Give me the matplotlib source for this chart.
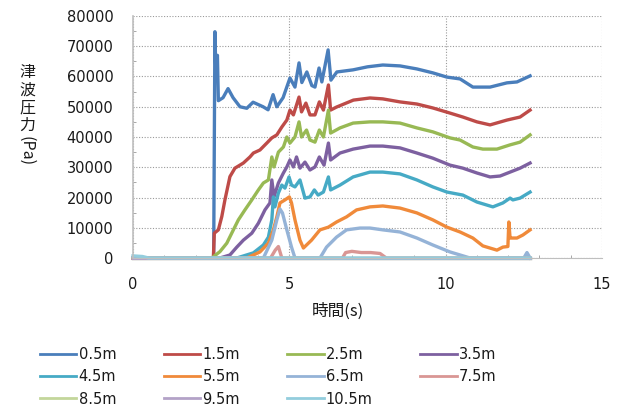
import matplotlib
matplotlib.use('Agg')
import matplotlib.pyplot as plt
from matplotlib.ticker import MultipleLocator

# series names (distance from shore)
names = ['0.5m', '1.5m', '2.5m', '3.5m', '4.5m', '5.5m',
         '6.5m', '7.5m', '8.5m', '9.5m', '10.5m']

colors = ['#4A7EBB', '#BE4B48', '#98B954', '#7D60A0', '#46AAC5', '#F08A3A',
          '#95B3D7', '#D99694', '#C3D69B', '#B3A2C7', '#93CDDD']

# time (s) and pressure (Pa)
t_05 = [0, 2.58, 2.62, 2.65, 2.70, 2.73, 2.88, 3.04, 3.20, 3.42, 3.64, 3.84, 4.16, 4.32,
        4.48, 4.60, 4.80, 5.02, 5.18, 5.31, 5.40, 5.56, 5.72, 5.82, 5.95, 6.04, 6.24,
        6.33, 6.52, 7.04, 7.50, 7.99, 8.54, 9.08, 9.59, 10.04, 10.46, 10.87, 11.42,
        11.96, 12.28, 12.70]
p_05 = [0, 0, 74800, 61000, 67000, 52000, 53000, 56000, 53000, 50000, 49500, 51500,
        50000, 49000, 54000, 50000, 53000, 59500, 56500, 64500, 58000, 61500, 57000,
        56500, 62800, 58200, 68800, 58800, 61500, 62200, 63200, 63800, 63500, 62500,
        61200, 59800, 59200, 56500, 56500, 57900, 58200, 60200]

t_15 = [0, 2.57, 2.60, 2.73, 2.84, 2.94, 3.10, 3.26, 3.53, 3.74, 3.85, 4.06, 4.28, 4.44,
        4.60, 4.76, 4.92, 5.02, 5.13, 5.31, 5.39, 5.53, 5.66, 5.82, 5.96, 6.09, 6.25,
        6.32, 6.51, 7.05, 7.58, 7.99, 8.54, 9.08, 9.59, 10.14, 10.55, 11.00, 11.42,
        11.96, 12.38, 12.70]
p_15 = [0, 0, 8200, 9300, 13700, 19200, 26900, 29700, 31400, 33400, 34700, 35700,
        38000, 39700, 40700, 43300, 45600, 48900, 47300, 53200, 48300, 51200, 47300,
        47300, 51600, 48900, 57200, 48900, 49900, 52200, 52900, 52600, 51600, 50900,
        49600, 47900, 46600, 45000, 44000, 45600, 46600, 48900]

t_25 = [0, 2.52, 2.78, 3.00, 3.21, 3.37, 3.58, 3.80, 4.01, 4.17, 4.33, 4.44, 4.51, 4.65,
        4.81, 4.92, 5.02, 5.18, 5.31, 5.39, 5.55, 5.66, 5.82, 5.96, 6.09, 6.25, 6.32,
        6.62, 7.04, 7.58, 7.99, 8.54, 9.08, 9.59, 10.14, 10.46, 10.87, 11.19, 11.64,
        12.06, 12.38, 12.70]
p_25 = [0, 0, 2100, 4900, 9300, 12600, 15900, 19200, 22500, 24800, 25800, 33400,
        30100, 35000, 36700, 40000, 38000, 40000, 45000, 40000, 42300, 39000, 38300,
        42300, 40000, 48900, 41300, 43000, 44600, 45000, 45000, 44600, 43000, 41700,
        39700, 39000, 36700, 36000, 36000, 37400, 38300, 40700]

t_35 = [0, 2.78, 3.10, 3.32, 3.53, 3.80, 4.01, 4.22, 4.38, 4.44, 4.51, 4.65, 4.81, 4.92,
        5.02, 5.13, 5.23, 5.34, 5.50, 5.66, 5.82, 5.96, 6.11, 6.25, 6.32, 6.62, 7.04,
        7.58, 7.99, 8.54, 9.08, 9.59, 10.14, 10.55, 11.00, 11.42, 11.74, 12.06, 12.38,
        12.70]
p_35 = [0, 0, 1000, 3600, 5900, 8200, 11500, 15900, 18200, 25800, 20200, 24800, 28100,
        30100, 32400, 30100, 33400, 29700, 31700, 29100, 30100, 33400, 30700, 38000,
        32400, 34700, 36000, 37000, 37000, 36400, 34700, 33000, 30700, 29700, 28100,
        26800, 27100, 28400, 29700, 31400]

t_45 = [0, 3.32, 3.85, 4.17, 4.33, 4.44, 4.49, 4.54, 4.65, 4.76, 4.86, 4.99, 5.07, 5.18,
        5.34, 5.50, 5.66, 5.80, 5.92, 6.09, 6.25, 6.32, 6.62, 7.04, 7.58, 7.99, 8.54,
        9.08, 9.59, 10.04, 10.55, 11.00, 11.51, 11.83, 12.06, 12.15, 12.38, 12.70]
p_45 = [0, 0, 1700, 4300, 6900, 12600, 20200, 16900, 21500, 24100, 23100, 26800, 24100,
        23500, 25800, 19800, 20200, 22500, 20800, 21800, 26800, 22500, 24100, 26800,
        28400, 28400, 27800, 25800, 23500, 21800, 20800, 18500, 16900, 18200, 19800,
        19200, 19800, 21800]

t_55 = [0, 3.64, 4.06, 4.33, 4.49, 4.60, 4.70, 4.86, 5.00, 5.07, 5.18, 5.34, 5.45, 5.55,
        5.71, 5.98, 6.25, 6.51, 6.83, 7.15, 7.58, 7.99, 8.54, 9.08, 9.59, 10.04, 10.46,
        10.87, 11.19, 11.64, 11.83, 11.99, 12.02, 12.06, 12.11, 12.28, 12.47, 12.70]
p_55 = [0, 0, 2000, 4900, 9300, 13600, 18200, 19200, 20200, 18200, 12600, 5900, 3300,
        4300, 5900, 9300, 10200, 11900, 13600, 15900, 16900, 17200, 16500, 14900, 12600,
        10200, 8600, 6600, 4000, 2600, 3600, 3800, 11900, 6600, 6600, 6600, 7600, 9300]

t_65 = [0, 4.17, 4.44, 4.60, 4.70, 4.78, 4.92, 5.07, 5.18, 5.98, 6.19, 6.51, 6.83, 7.26,
        7.58, 7.99, 8.54, 9.08, 9.59, 10.14, 10.78, 12.50, 12.60, 12.70]
p_65 = [0, 0, 5900, 12600, 16200, 14900, 9300, 3600, 0, 0, 3600, 6900, 9300, 9900, 9900,
        9300, 8600, 6600, 4300, 2000, 0, 0, 1800, 0]

t_75 = [0, 4.40, 4.55, 4.65, 4.76, 6.70, 6.80, 7.00, 7.30, 7.60, 7.90, 8.10, 12.70]
p_75 = [0, 0, 2600, 3800, 0, 0, 1800, 2200, 1800, 1800, 1500, 0, 0]

t_85 = [0, 12.70]
p_85 = [0, 0]

t_95 = [0, 12.70]
p_95 = [0, 0]

t_105 = [0, 0.3, 0.5, 12.70]
p_105 = [700, 500, 0, 0]

times = [t_05, t_15, t_25, t_35, t_45, t_55, t_65, t_75, t_85, t_95, t_105]
pressures = [p_05, p_15, p_25, p_35, p_45, p_55, p_65, p_75, p_85, p_95, p_105]

fig = plt.figure(figsize=(6.25, 4.08), dpi=100)
ax = fig.add_axes([133 / 625, 1 - 258 / 408, (602 - 133) / 625, (258 - 16) / 408])

lines = []
for t, p, c, n in zip(times, pressures, colors, names):
    ln, = ax.plot(t, p, color=c, lw=2.4, label=n, clip_on=False,
                  solid_joinstyle='round')
    lines.append(ln)

ax.set_xlim(0, 15)
ax.set_ylim(0, 80000)
ax.xaxis.set_major_locator(MultipleLocator(5))
ax.yaxis.set_major_locator(MultipleLocator(10000))
ax.xaxis.set_minor_locator(MultipleLocator(1))
ax.yaxis.set_minor_locator(MultipleLocator(5000))

ax.grid(True, which='major', color='#9A9A9A', linestyle=(0, (1, 1.5)), lw=0.8)
ax.set_axisbelow(True)
for s in ['top', 'right']:
    ax.spines[s].set_visible(False)
ax.spines['left'].set_color('#BFBFBF')
ax.spines['bottom'].set_color('#BFBFBF')
ax.spines['left'].set_linewidth(1.2)

ax.tick_params(which='major', length=0, pad=14, labelsize=10.5, labelcolor='#1a1a1a')
ax.tick_params(which='minor', direction='in', length=2, color='#9A9A9A')

# axis titles, y one written vertically (one glyph per row)
cjk = ['Noto Sans CJK JP', 'DejaVu Sans']
fig.text(338 / 625, 1 - 311 / 408, '時間(s)', family=cjk, fontsize=12,
         ha='center', va='center', color='#1a1a1a')
for i, ch in enumerate('津波圧力'):
    fig.text(27 / 625, 1 - (73 + 17.3 * i) / 408, ch, family=cjk, fontsize=11.5,
             ha='center', va='center', color='#1a1a1a')
fig.text(26 / 625, 1 - 151 / 408, '(Pa)', family=cjk, fontsize=11.5, rotation=270,
         ha='center', va='center', color='#1a1a1a')

# legend filled row by row like the original
order = [0, 4, 8, 1, 5, 9, 2, 6, 10, 3, 7]
leg = fig.legend([lines[i] for i in order], [names[i] for i in order],
                 loc='upper left', bbox_to_anchor=(40 / 625, 1 - 347 / 408),
                 ncol=4, frameon=False, fontsize=10.5, handlelength=2.5,
                 handletextpad=0.15, columnspacing=3.25, labelspacing=0.5,
                 borderpad=0, borderaxespad=0)
for h in leg.get_lines():
    h.set_linewidth(2)
for txt in leg.get_texts():
    txt.set_color('#1a1a1a')

fig.savefig('out.png', dpi=100)
